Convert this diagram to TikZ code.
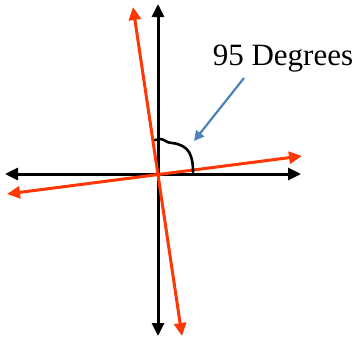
\documentclass[tikz,border=0pt]{standalone}
\usepackage{fontspec}
\setmainfont{Liberation Serif}
\usetikzlibrary{arrows.meta}
\definecolor{redax}{RGB}{255,55,5}
\definecolor{bluearr}{RGB}{79,129,189}
\tikzset{
  axis/.style={line width=3pt,-{Triangle[length=13pt,width=12pt]}},
  redline/.style={line width=3pt,redax,{Triangle[length=13pt,width=12pt]}-{Triangle[length=13pt,width=12pt]}},
  anglemark/.style={line width=2.6pt,line join=round,line cap=round},
  callout/.style={line width=2.2pt,bluearr,-{Triangle[length=10pt,width=10pt]}}
}
\begin{document}
\begin{tikzpicture}[x=1pt,y=-1pt]
\useasboundingbox (0,0) rectangle (362,341);
\coordinate (O) at (158,174);
\coordinate (top) at (158,4);
\coordinate (bot) at (158,336);
\coordinate (left) at (5,174);
\coordinate (right) at (301,174);
\draw[axis] (O) -- (top);
\draw[axis] (O) -- (bot);
\draw[axis] (O) -- (left);
\draw[axis] (O) -- (right);
\coordinate (rtop) at (133,7);
\coordinate (rbot) at (182,336);
\coordinate (rleft) at (7,194);
\coordinate (rright) at (302,156);
\draw[redline] (rtop) -- (rbot);
\draw[redline] (rleft) -- (rright);
\draw[anglemark] (155,140) -- (160,139) .. controls (165,139) and (166,143) .. (172,143) .. controls (189,145) and (193,155) .. (193,172);
\node[font=\fontsize{31}{36}\selectfont, inner sep=0pt] (lbl) at (283,59) {95 Degrees};
\coordinate (cs) at (244,78);
\coordinate (ce) at (194,141);
\draw[callout] (cs) -- (ce);
\end{tikzpicture}
\end{document}
